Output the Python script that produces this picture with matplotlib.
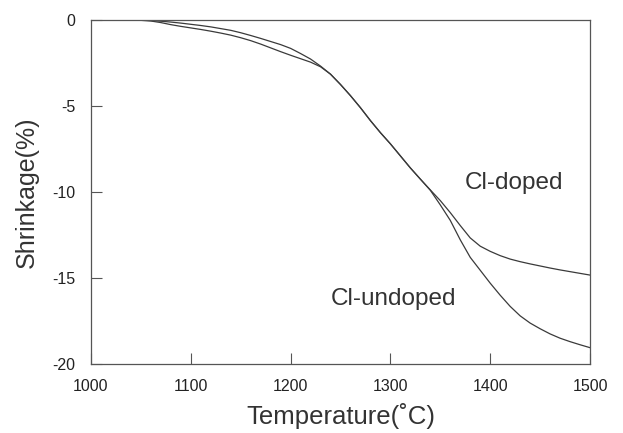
import numpy as np
import matplotlib
matplotlib.use("Agg")
import matplotlib.pyplot as plt

plt.rcParams['font.family'] = ['Liberation Sans', 'DejaVu Sans']
plt.rcParams['axes.unicode_minus'] = False

# temperature (C) and linear shrinkage (%) for the two samples
temp = [1000, 1020, 1040, 1050, 1060, 1070, 1080, 1090, 1100, 1110,
        1120, 1130, 1140, 1150, 1160, 1170, 1180, 1190, 1200, 1210,
        1220, 1230, 1240, 1250, 1260, 1270, 1280, 1290, 1300, 1310,
        1320, 1330, 1340, 1350, 1360, 1370, 1380, 1390, 1400, 1410,
        1420, 1430, 1440, 1450, 1460, 1470, 1480, 1490, 1500]

doped = [0.0, 0.0, 0.0, -0.01, -0.03, -0.07, -0.12, -0.18, -0.25, -0.32,
         -0.4, -0.5, -0.6, -0.74, -0.9, -1.07, -1.25, -1.43, -1.65, -1.95,
         -2.27, -2.68, -3.15, -3.75, -4.4, -5.1, -5.85, -6.55, -7.2, -7.9,
         -8.6, -9.25, -9.88, -10.5, -11.2, -11.95, -12.67, -13.15, -13.45, -13.7,
         -13.9, -14.05, -14.18, -14.3, -14.42, -14.53, -14.63, -14.73, -14.83]

undoped = [0.0, 0.0, 0.0, -0.02, -0.06, -0.15, -0.27, -0.37, -0.46, -0.55,
           -0.65, -0.76, -0.88, -1.03, -1.2, -1.4, -1.62, -1.84, -2.05, -2.25,
           -2.45, -2.72, -3.15, -3.75, -4.4, -5.1, -5.85, -6.55, -7.2, -7.9,
           -8.6, -9.25, -9.9, -10.75, -11.65, -12.78, -13.8, -14.55, -15.3, -16.0,
           -16.65, -17.2, -17.62, -17.95, -18.25, -18.5, -18.7, -18.88, -19.05]

xticks = [1000, 1100, 1200, 1300, 1400, 1500]
yticks = [0, -5, -10, -15, -20]

fig = plt.figure(figsize=(6.23, 4.33), dpi=100)
ax = fig.add_axes([91 / 623, 1 - 364 / 433, 499 / 623, 344 / 433])

ax.plot(temp, doped, color='#3a3a3a', lw=0.9)
ax.plot(temp, undoped, color='#3a3a3a', lw=0.9)

ax.set_xlim(1000, 1500)
ax.set_ylim(-20, 0)
ax.set_xticks(xticks)
ax.set_yticks(yticks)
ax.tick_params(direction='in', length=8, width=0.8, color='#555555',
               labelsize=11.5, labelcolor='#222222', pad=11, top=False, right=False)
ax.tick_params(axis='y', pad=11)
for s in ax.spines.values():
    s.set_color('#555555')
    s.set_linewidth(0.9)

ax.set_xlabel('Temperature(˚C)', fontsize=18.5, labelpad=6, color='#333333')
ax.set_ylabel('Shrinkage(%)', fontsize=18, labelpad=10, color='#333333')

ax.text(1424, -9.5, 'Cl-doped', fontsize=17.5, ha='center', va='center', color='#333333')
ax.text(1303, -16.2, 'Cl-undoped', fontsize=17.5, ha='center', va='center', color='#333333')

fig.savefig('out.png', dpi=100)
